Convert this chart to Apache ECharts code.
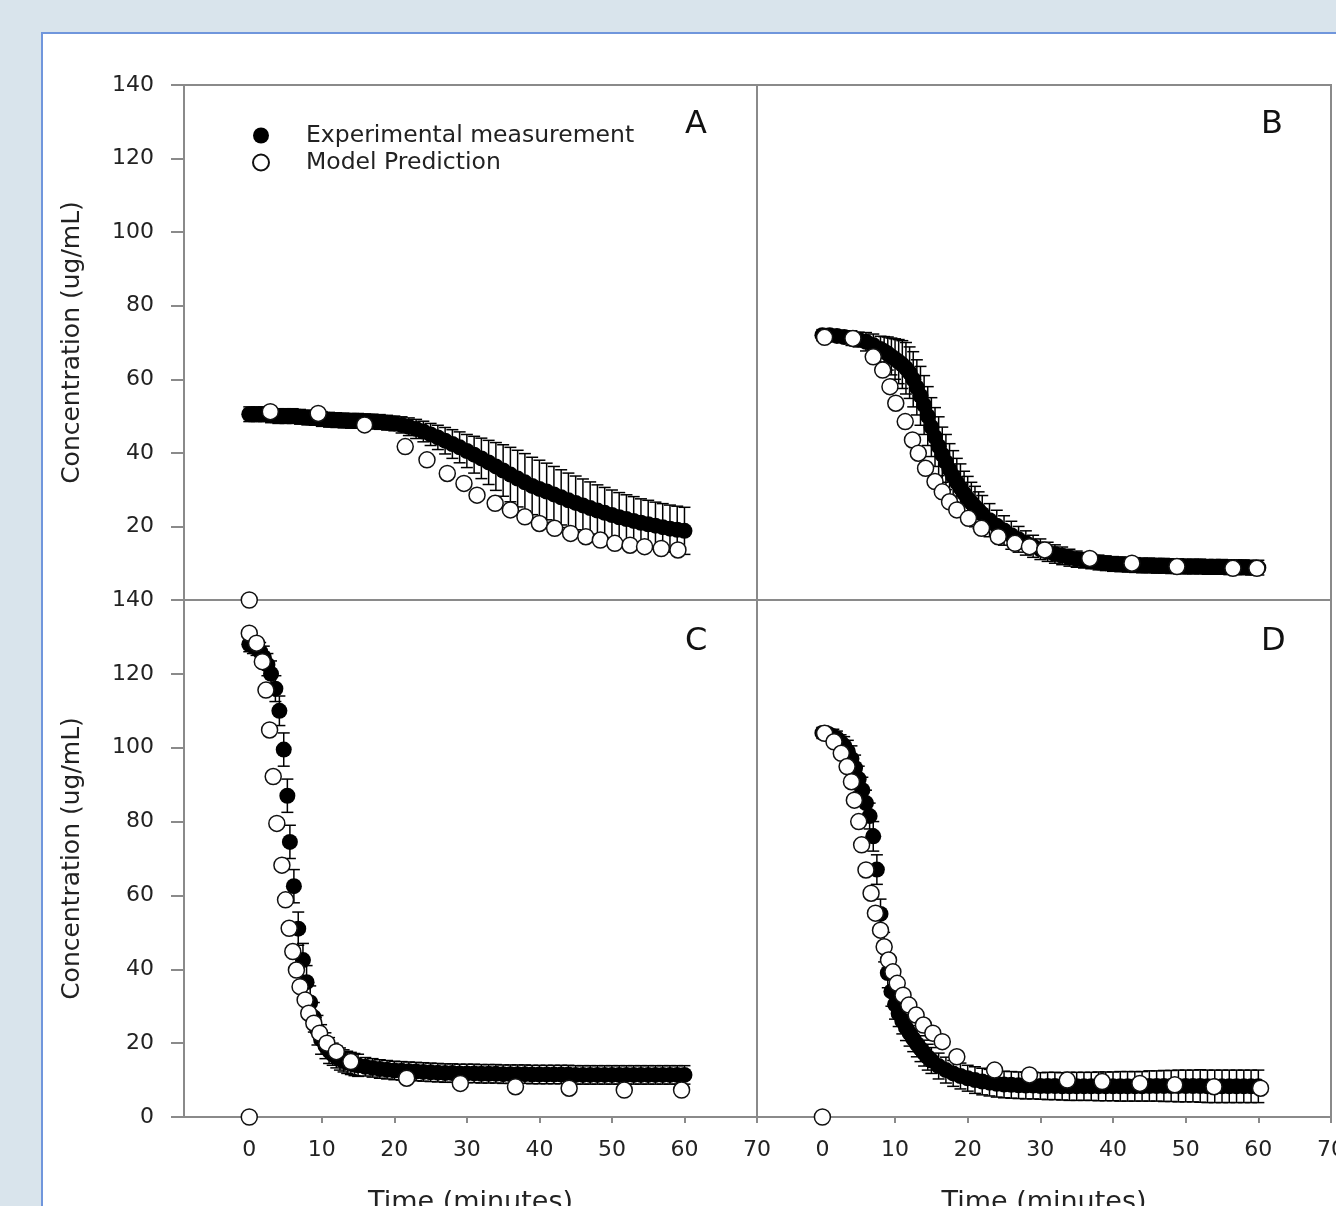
<!DOCTYPE html>
<html>
<head>
<meta charset="utf-8">
<script src="https://cdn.jsdelivr.net/npm/echarts@6/dist/echarts.min.js"></script>
<style>
  html, body { margin:0; padding:0; width:1336px; height:1206px; overflow:hidden; background:#d9e4ec; }
  #frame { position:absolute; left:41px; top:32px; width:1400px; height:1300px; background:#ffffff; border:2px solid #7096dc; box-sizing:border-box; }
  #chart { position:absolute; left:0; top:0; width:1336px; height:1206px; }
</style>
</head>
<body>
<div id="frame"></div>
<div id="chart"></div>
<script>
// ---------- tick labels ----------
const xTicks = [0, 10, 20, 30, 40, 50, 60, 70];
const yTicks = [0, 20, 40, 60, 80, 100, 120, 140];
const yTicksTop = [20, 40, 60, 80, 100, 120, 140];
const panelLetters = ['A', 'B', 'C', 'D'];

// ---------- Panel A : [time, mean, sd] ----------
const expA = [
  [0,50.5,2],[1,50.5,2],[2,50.5,2],[3,50.2,2],[4,50,2],[5,50,2],[6,50,2],[7,49.8,2],[8,49.6,2],[9,49.5,2],
  [10,49.2,2],[11,49,2],[12,48.9,2],[13,48.8,2],[14,48.7,2],[15,48.7,2],[16,48.6,2],[17,48.5,2],[18,48.4,2],[19,48.2,2],
  [20,48,2],[21,47.6,2.2],[22,47.1,2.4],[23,46.5,2.6],[24,45.8,2.8],[25,45,3],[26,44.2,3.3],[27,43.3,3.6],[28,42.4,3.9],[29,41.5,4.2],
  [30,40.5,4.5],[31,39.5,5],[32,38.5,5.5],[33,37.4,6],[34,36.3,6.5],[35,35.2,7],[36,34.1,7.4],[37,33,7.7],[38,32,7.8],[39,31,7.8],
  [40,30.2,7.8],[41,29.5,7.7],[42,28.7,7.6],[43,27.9,7.5],[44,27.1,7.4],[45,26.4,7.3],[46,25.7,7.2],[47,25,7.1],[48,24.3,7],[49,23.7,6.9],
  [50,23.1,6.8],[51,22.5,6.7],[52,22,6.6],[53,21.5,6.6],[54,21,6.5],[55,20.6,6.5],[56,20.2,6.4],[57,19.8,6.4],[58,19.4,6.4],[59,19.1,6.4],
  [60,18.8,6.4]
];
const modelA = [
  [0,0],[2.9,51.2],[9.5,50.7],[15.9,47.6],[21.5,41.7],[24.5,38.1],[27.3,34.4],[29.6,31.7],[31.4,28.5],[33.9,26.3],
  [36.0,24.5],[38.0,22.6],[40.0,20.8],[42.1,19.5],[44.3,18.1],[46.4,17.2],[48.4,16.3],[50.4,15.4],[52.5,14.9],[54.5,14.5],
  [56.8,14.0],[59.1,13.6]
];

// ---------- Panel B ----------
const expB = [
  [0,72,1.5],[1,72,1.5],[2,71.8,1.5],[3,71.5,1.5],[4,71.2,2],[5,70.8,2],[6,70.2,2.5],[7,69.3,3],[8,68.2,3.5],
  [8.5,67.6,4],[9,67,4.5],[9.5,66.2,5],[10,65.5,5.5],[10.5,64.8,6],[11,64,6.5],[11.5,63,7],[12,61.8,7],[12.5,60,7.5],[13,57.8,7.5],
  [13.5,55.5,8],[14,53,8],[14.5,50,8],[15,47,8],[15.5,44.3,8],[16,41.8,8],[16.5,39.5,7.5],[17,37.5,7.5],[17.5,35.5,7],[18,33.6,7],
  [18.5,32,6.5],[19,30.5,6.5],[19.5,29,6],[20,27.6,6],[20.5,26.5,5.5],[21,25.4,5.5],[21.5,24.4,5],[22,23.4,5],
  [23,21.7,4.5],[24,20.2,4.2],[25,18.9,4],[26,17.6,3.8],[27,16.5,3.5],[28,15.5,3.3],[29,14.6,3],[30,13.8,2.8],[31,13.1,2.6],[32,12.5,2.5],
  [33,12,2.4],[34,11.5,2.3],[35,11.1,2.2],[36,10.8,2.1],[37,10.5,2],[38,10.2,2],[39,10,2],[40,9.8,2],[41,9.7,2],[42,9.6,2],
  [43,9.5,2],[44,9.4,2],[45,9.4,2],[46,9.3,2],[47,9.3,2],[48,9.2,2],[49,9.2,2],[50,9.1,2],[51,9.1,2],[52,9.1,2],
  [53,9,2],[54,9,2],[55,9,2],[56,8.9,2],[57,8.9,2],[58,8.9,2],[59,8.8,2],[60,8.8,2]
];
const modelB = [
  [0.3,71.4],[4.2,71.1],[7.0,66.1],[8.3,62.5],[9.3,58.0],[10.1,53.5],[11.4,48.5],[12.4,43.5],[13.2,39.9],[14.2,35.8],
  [15.5,32.2],[16.5,29.4],[17.5,26.7],[18.5,24.5],[20.1,22.2],[21.9,19.5],[24.2,17.2],[26.5,15.4],[28.5,14.5],[30.6,13.6],
  [36.8,11.3],[42.6,10.0],[48.8,9.1],[56.5,8.6],[59.8,8.6]
];

// ---------- Panel C ----------
const expC = [
  [0,128,2],[0.5,127.5,2],[1,127,2],[1.5,126,2.5],[2,124.5,3],[2.5,122.5,3],[3,120,3.5],[3.6,116,3.5],
  [4.15,110,4],[4.75,99.5,4.5],[5.25,87,4.5],[5.6,74.5,4.5],[6.15,62.5,4.5],[6.75,51,4.5],[7.4,42.5,4.5],
  [7.9,36.5,4.5],[8.4,31,4.5],[8.9,27,4],[9.4,23.5,4],[9.9,21,4],[10.5,19.3,3.5],[11,18,3.5],[11.5,17,3],[12,16.3,3],
  [12.5,15.7,3],[13,15.2,3],[13.5,14.8,3],[14,14.5,3],[14.5,14.2,3],[15,14,3],
  [16,13.6,2.5],[17,13.3,2.5],[18,13,2.5],[19,12.8,2.5],[20,12.6,2.5],[21,12.5,2.5],[22,12.4,2.5],[23,12.3,2.5],[24,12.2,2.5],[25,12.1,2.5],
  [26,12,2.5],[27,11.9,2.5],[28,11.9,2.5],[29,11.8,2.5],[30,11.8,2.5],[31,11.8,2.5],[32,11.7,2.5],[33,11.7,2.5],[34,11.7,2.5],[35,11.6,2.5],
  [36,11.6,2.5],[37,11.6,2.5],[38,11.6,2.5],[39,11.5,2.5],[40,11.5,2.5],[41,11.5,2.5],[42,11.5,2.5],[43,11.5,2.5],[44,11.5,2.5],[45,11.4,2.5],
  [46,11.4,2.5],[47,11.4,2.5],[48,11.4,2.5],[49,11.4,2.5],[50,11.4,2.5],[51,11.4,2.5],[52,11.4,2.5],[53,11.4,2.5],[54,11.4,2.5],[55,11.4,2.5],
  [56,11.4,2.5],[57,11.4,2.5],[58,11.4,2.5],[59,11.4,2.5],[60,11.4,2.5]
];
const modelC = [
  [0,0],[0.0,131],[1.0,128.3],[1.8,123.3],[2.3,115.6],[2.8,104.8],[3.3,92.2],[3.8,79.5],[4.5,68.2],[5.0,58.8],
  [5.5,51.1],[6.0,44.8],[6.5,39.8],[7.0,35.3],[7.7,31.7],[8.2,28.1],[8.9,25.4],[9.7,22.7],[10.7,20.0],[12.0,17.7],
  [14.0,15.0],[21.7,10.5],[29.1,9.1],[36.7,8.2],[44.1,7.8],[51.7,7.3],[59.6,7.3]
];

// ---------- Panel D ----------
const expD = [
  [0,104,1.5],[0.5,104,1.5],[1,103.5,1.5],[1.5,103,2],[2,102.5,2],[2.5,101.5,2],[3,100.5,2.5],[3.5,99,3],[4,97,3.5],[4.5,94.5,3.5],
  [5,91.5,3.5],[5.5,88.5,3.5],[6,85,3.5],[6.5,81.5,3.5],[7,76,4],[7.5,67,4],[8,55,4],[8.5,46,4],[9,39,4],[9.5,34,4],
  [10,30.5,4],[10.5,28,3.5],[11,26,3.5],[11.5,24.2,3.5],[12,22.7,3.5],[12.5,21.2,3.5],[13,19.8,3.5],[13.5,18.5,3.5],[14,17.3,3.5],[14.5,16.2,3.5],
  [15,15.3,3.5],[16,13.8,3.5],[17,12.7,3.5],[18,11.8,3.5],[19,11.1,3.5],[20,10.5,3.5],[21,10,3.6],[22,9.6,3.6],[23,9.3,3.6],[24,9,3.6],
  [25,8.8,3.6],[26,8.7,3.6],[27,8.6,3.6],[28,8.5,3.6],[29,8.5,3.6],[30,8.4,3.6],[31,8.4,3.7],[32,8.4,3.7],[33,8.3,3.7],[34,8.3,3.8],
  [35,8.3,3.8],[36,8.3,3.8],[37,8.3,3.8],[38,8.3,3.9],[39,8.3,3.9],[40,8.3,3.9],[41,8.3,4],[42,8.3,4],[43,8.3,4],[44,8.3,4],
  [45,8.4,4.1],[46,8.4,4.1],[47,8.4,4.2],[48,8.4,4.2],[49,8.4,4.3],[50,8.4,4.3],[51,8.4,4.3],[52,8.4,4.4],[53,8.3,4.4],[54,8.3,4.4],
  [55,8.3,4.4],[56,8.3,4.4],[57,8.3,4.4],[58,8.3,4.4],[59,8.3,4.4],[60,8.3,4.4]
];
const modelD = [
  [0,0],[0.3,103.9],[1.6,101.6],[2.6,98.5],[3.4,94.9],[4.0,90.8],[4.4,85.8],[5.0,80.0],[5.4,73.7],[6.0,66.9],
  [6.7,60.6],[7.3,55.2],[8.0,50.6],[8.5,46.1],[9.1,42.5],[9.7,39.3],[10.3,36.2],[11.1,33.0],[11.9,30.3],[12.9,27.6],
  [13.9,24.9],[15.2,22.7],[16.5,20.4],[18.5,16.3],[23.7,12.7],[28.5,11.4],[33.7,10.0],[38.5,9.6],[43.7,9.1],[48.5,8.7],
  [53.9,8.2],[60.3,7.8]
];

const expAll = [expA, expB, expC, expD];
const modelAll = [modelA, modelB, modelC, modelD];

// ---------- build chart ----------
const FONT = "'DejaVu Sans', sans-serif";
const AXIS = '#8a8a8a';
const TXT = '#222';

const grids = [
  { left: 184, top: 85, width: 573, height: 515 },
  { left: 757, top: 85, width: 574, height: 515 },
  { left: 184, top: 600, width: 573, height: 517 },
  { left: 757, top: 600, width: 574, height: 517 }
].map(g => Object.assign({ show: true, borderColor: AXIS, borderWidth: 2, backgroundColor: 'transparent',
                           containLabel: false, outerBoundsMode: 'none' }, g));

const xAxes = [0, 1, 2, 3].map(i => {
  const bottom = i >= 2;
  return {
    gridIndex: i, type: 'value', min: -9, max: 70,
    axisLine: { show: true, onZero: false, lineStyle: { color: AXIS, width: 2 } },
    axisTick: { show: bottom, inside: false, length: 6, customValues: xTicks, lineStyle: { color: AXIS, width: 2 } },
    axisLabel: { show: bottom, customValues: xTicks, margin: 22, fontSize: 22, color: TXT, fontFamily: FONT },
    splitLine: { show: false },
    name: bottom ? 'Time (minutes)' : '',
    nameLocation: 'middle', nameGap: 72,
    nameTextStyle: { fontSize: 27, color: TXT, fontFamily: FONT }
  };
});

const yAxes = [0, 1, 2, 3].map(i => {
  const left = (i % 2) === 0;
  const top = i < 2;
  return {
    gridIndex: i, type: 'value', min: 0, max: 140, interval: 20,
    axisLine: { show: true, onZero: false, lineStyle: { color: AXIS, width: 2 } },
    axisTick: { show: left, inside: false, length: 13, lineStyle: { color: AXIS, width: 2 } },
    axisLabel: { show: left, margin: 30, fontSize: 22, color: TXT, fontFamily: FONT,
                 customValues: top ? yTicksTop : yTicks },
    splitLine: { show: false },
    name: left ? 'Concentration (ug/mL)' : '',
    nameLocation: 'middle', nameGap: 99,
    nameTextStyle: { fontSize: 25, color: TXT, fontFamily: FONT }
  };
});

function errRender(params, api) {
  const t = api.value(0), m = api.value(1), e = api.value(2);
  const hi = api.coord([t, m + e]);
  const lo = api.coord([t, m - e]);
  const w = 6;
  const style = { stroke: '#000', lineWidth: 1.5, fill: null };
  return {
    type: 'group',
    children: [
      { type: 'line', shape: { x1: hi[0], y1: hi[1], x2: lo[0], y2: lo[1] }, style: style },
      { type: 'line', shape: { x1: hi[0] - w, y1: hi[1], x2: hi[0] + w, y2: hi[1] }, style: style },
      { type: 'line', shape: { x1: lo[0] - w, y1: lo[1], x2: lo[0] + w, y2: lo[1] }, style: style }
    ]
  };
}

const series = [];
for (let i = 0; i < 4; i++) {
  series.push({
    type: 'custom', name: 'sd' + i, xAxisIndex: i, yAxisIndex: i,
    renderItem: errRender, data: expAll[i], encode: { x: 0, y: 1 }, z: 1, silent: true
  });
  series.push({
    type: 'scatter', name: 'Experimental measurement', xAxisIndex: i, yAxisIndex: i,
    data: expAll[i].map(d => [d[0], d[1]]), symbol: 'circle', symbolSize: 16,
    itemStyle: { color: '#000', opacity: 1 }, z: 2
  });
  series.push({
    type: 'scatter', name: 'Model Prediction', xAxisIndex: i, yAxisIndex: i,
    data: modelAll[i], symbol: 'circle', symbolSize: 16, clip: false,
    itemStyle: { color: '#fff', borderColor: '#111', borderWidth: 1.5, opacity: 1 }, z: 3
  });
}

const titles = [
  { text: panelLetters[0], left: 685, top: 109 },
  { text: panelLetters[1], left: 1261, top: 109 },
  { text: panelLetters[2], left: 685, top: 626 },
  { text: panelLetters[3], left: 1261, top: 626 }
].map(t => Object.assign({ padding: 0, textStyle: { fontSize: 32, fontWeight: 'normal', color: '#111', fontFamily: FONT } }, t));

const chart = echarts.init(document.getElementById('chart'), null, { renderer: 'canvas' });
chart.setOption({
  animation: false,
  backgroundColor: 'transparent',
  title: titles,
  legend: {
    data: ['Experimental measurement', 'Model Prediction'],
    orient: 'vertical', left: 252, top: 122, padding: 0,
    itemWidth: 16, itemHeight: 16, itemGap: 0, selectedMode: false,
    textStyle: { fontFamily: FONT, fontSize: 23.5, color: TXT, lineHeight: 27, padding: [0, 0, 0, 32] }
  },
  grid: grids,
  xAxis: xAxes,
  yAxis: yAxes,
  series: series
});
</script>
</body>
</html>
